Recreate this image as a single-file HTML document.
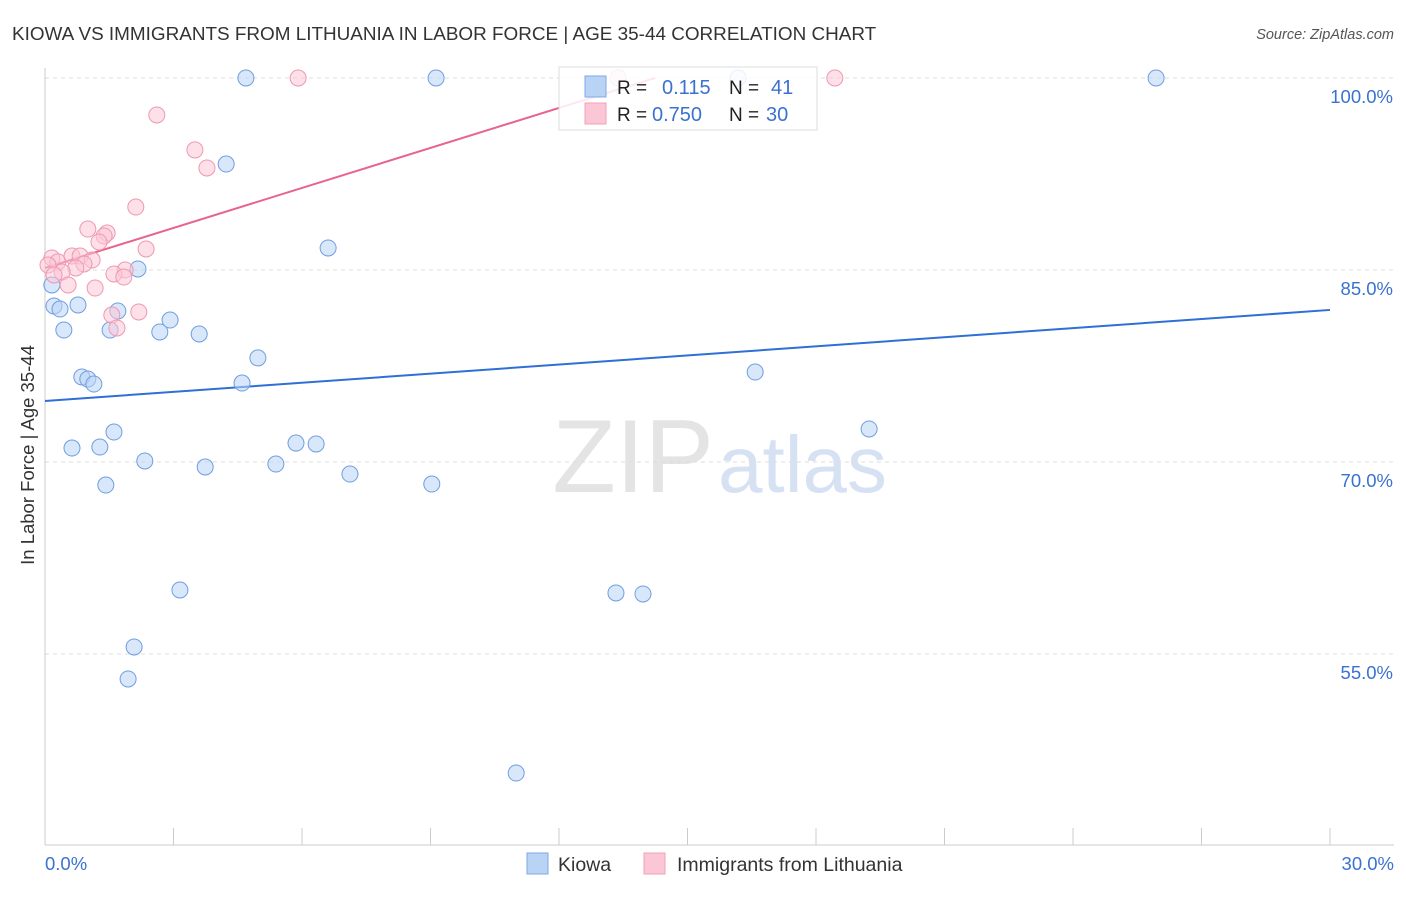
<!DOCTYPE html>
<html><head><meta charset="utf-8"><style>
body{margin:0;background:#fff;font-family:"Liberation Sans",sans-serif;}
svg text{font-family:"Liberation Sans",sans-serif;}
</style></head><body>
<svg id="chart" width="1406" height="892">
<text x="12" y="40" font-size="18.9" fill="#333">KIOWA VS IMMIGRANTS FROM LITHUANIA IN LABOR FORCE | AGE 35-44 CORRELATION CHART</text>
<text x="1394" y="39" font-size="14.5" fill="#555" font-style="italic" text-anchor="end">Source: ZipAtlas.com</text>
<text x="714" y="492" font-size="104" fill="#e4e4e4" text-anchor="end" font-family="Liberation Serif">ZIP</text>
<text x="718" y="492" font-size="80" fill="#d6e2f3">atlas</text>
<text transform="translate(34,455) rotate(-90)" font-size="18.5" fill="#333" text-anchor="middle">In Labor Force | Age 35-44</text>
<g id="grid"></g><g id="axes"></g><g id="lines"></g><g id="pts"></g>
<g>
<rect x="559" y="67" width="258" height="63" fill="#fff" fill-opacity="0.85" stroke="#ddd"/>
<rect x="585" y="76" width="21" height="21" fill="#b9d3f5" stroke="#7ea8e6"/>
<rect x="585" y="103" width="21" height="21" fill="#fbc7d6" stroke="#efa0b8"/>
<text x="617" y="94" font-size="19" fill="#222">R = </text><text x="662" y="94" font-size="20" fill="#3a72d0">0.115</text>
<text x="729" y="94" font-size="19" fill="#222">N = </text><text x="771" y="94" font-size="20" fill="#3a72d0">41</text>
<text x="617" y="121" font-size="19" fill="#222">R = </text><text x="652" y="121" font-size="20" fill="#3a72d0">0.750</text>
<text x="729" y="121" font-size="19" fill="#222">N = </text><text x="766" y="121" font-size="20" fill="#3a72d0">30</text>
</g>
<g>
<rect x="527" y="853" width="21" height="21" fill="#b9d3f5" stroke="#7ea8e6"/>
<text x="558" y="871" font-size="19.5" fill="#333">Kiowa</text>
<rect x="644" y="853" width="21" height="21" fill="#fbc7d6" stroke="#efa0b8"/>
<text x="677" y="871" font-size="19.5" fill="#333">Immigrants from Lithuania</text>
</g>
</svg>
<script>
const yTicks=[100,85,70,55];
const xTickLabels=["0.0%","30.0%"];
const blueX=[4.69,9.13,25.94,16.18,4.23,6.61,2.17,0.16,0.21,0.35,0.77,1.70,0.44,1.52,2.68,2.92,3.60,4.97,0.86,1.00,1.14,4.60,16.58,1.61,0.63,1.28,5.86,6.33,19.24,2.33,3.74,5.39,7.12,1.42,9.03,3.15,13.33,13.96,2.08,1.94,11.0];
const blueY=[100,100,100,100,93.28,86.72,85.08,83.83,82.19,81.95,82.27,81.80,80.31,80.31,80.16,81.09,80.0,78.13,76.64,76.48,76.09,76.17,77.03,72.34,71.09,71.17,71.48,71.41,72.58,70.08,69.61,69.84,69.06,68.20,68.28,60.0,59.77,59.69,55.55,53.05,45.70];
const pinkX=[5.91,18.44,13.38,2.61,3.50,3.78,2.12,1.00,1.45,1.38,1.26,2.36,0.16,0.30,0.07,0.63,0.82,1.10,0.91,0.72,0.40,0.21,1.87,1.61,1.84,1.17,0.54,2.19,1.56,1.68];
const pinkY=[100,100,100,97.11,94.38,92.97,89.92,88.20,87.89,87.66,87.19,86.64,85.94,85.63,85.39,86.09,86.09,85.78,85.47,85.16,84.84,84.61,85.0,84.69,84.45,83.59,83.83,81.72,81.48,80.47];
const blueLine=[74.77,81.88];
const pinkLine=[85.16,1.042];
const X=v=>45+v/30*1285, Y=v=>270-(v-85)*192/15;
const NS="http://www.w3.org/2000/svg";
function mk(p,t,a){const e=document.createElementNS(NS,t);for(const k in a)e.setAttribute(k,a[k]);document.getElementById(p).appendChild(e);return e;}
yTicks.forEach(t=>{const l=mk('grid','line',{x1:45,x2:1394,y1:Y(t),y2:Y(t),stroke:'#ddd','stroke-dasharray':'4,4'});


const tx=mk('grid','text',{x:1393,y:Y(t)+25,'font-size':18.5,fill:'#3a72d0','text-anchor':'end'});tx.textContent=t.toFixed(1)+'%';

});
mk('axes','line',{x1:45,x2:45,y1:68,y2:845,stroke:'#ccc'});
mk('axes','line',{x1:45,x2:1394,y1:845,y2:845,stroke:'#ccc'});
for(let i=0;i<=10;i++){mk('axes','line',{x1:X(i*3),x2:X(i*3),y1:828,y2:845,stroke:'#ccc'});}
const t0=mk('axes','text',{x:45,y:870,'font-size':18.5,fill:'#3a72d0'});t0.textContent=xTickLabels[0];


const t1=mk('axes','text',{x:1394,y:870,'font-size':18.5,fill:'#3a72d0','text-anchor':'end'});t1.textContent=xTickLabels[1];


blueX.forEach((x,i)=>{const c=mk('pts','circle',{cx:X(x),cy:Y(blueY[i]),r:8,fill:'#b9d3f5','fill-opacity':0.55,stroke:'#6f9ee0'});

});
pinkX.forEach((x,i)=>{const c=mk('pts','circle',{cx:X(x),cy:Y(pinkY[i]),r:8,fill:'#fbc7d6','fill-opacity':0.55,stroke:'#ee98b2'});

});
const bl=mk('lines','line',{x1:X(0),y1:Y(blueLine[0]),x2:X(30),y2:Y(blueLine[1]),stroke:'#2f6fd6','stroke-width':2});


const xe=(100-pinkLine[0])/pinkLine[1];
const pl=mk('lines','line',{x1:X(0),y1:Y(pinkLine[0]),x2:X(xe),y2:Y(100),stroke:'#e8648e','stroke-width':2});


</script>
</body></html>
